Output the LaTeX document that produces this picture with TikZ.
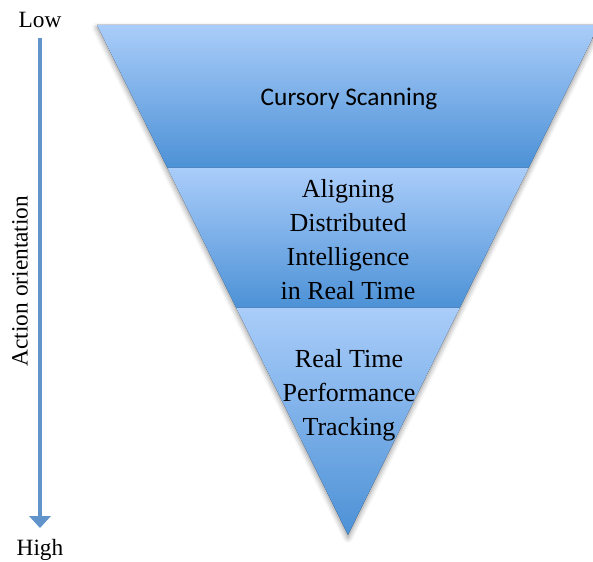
\documentclass[tikz,border=0pt]{standalone}
\usepackage{fontspec}
\setmainfont{Liberation Serif}
\newfontfamily\calibri{Carlito}
\usetikzlibrary{arrows.meta, shadows.blur}

\definecolor{bandlight}{RGB}{170,205,250}
\definecolor{banddark}{RGB}{76,145,214}
\definecolor{arrowblue}{RGB}{98,148,204}

\tikzset{
  band/.style={top color=bandlight, bottom color=banddark},
  tiertext/.style={align=center, font=\fontsize{19.5}{25.5}\selectfont},
  axistext/.style={font=\fontsize{17.5}{20}\selectfont},
  axisarrow/.style={arrowblue, line width=3pt,
    -{Triangle[width=16pt, length=9pt]}},
}

\begin{document}
\begin{tikzpicture}[x=0.75pt, y=0.75pt]
  \useasboundingbox (0,0) rectangle (593,561);
  \clip (0,0) rectangle (593,561);

  % ── Funnel outline with soft shadow ──
  \fill[white, blur shadow={shadow xshift=0pt, shadow yshift=-2pt,
      shadow blur radius=4pt, shadow opacity=45}]
    (97,536) -- (599,536) -- (348,26) -- cycle;

  % ── Three bands, light at the top, darker at the bottom ──
  \fill[band] (97,536) -- (599,536) -- (528.6,393) -- (167.4,393) -- cycle;
  \fill[band] (167.4,393) -- (528.6,393) -- (459.7,253) -- (236.3,253) -- cycle;
  \fill[band] (236.3,253) -- (459.7,253) -- (348,26) -- cycle;

  % ── Band texts ──
  \node[tiertext, font=\calibri\fontsize{19}{23}\selectfont] (scan) at (349,462)
    {Cursory Scanning};
  \node[tiertext] (align) at (348,321)
    {Aligning\\Distributed\\Intelligence\\in Real Time};
  \node[tiertext] (track) at (349,166)
    {Real Time\\Performance\\Tracking};

  % ── Action axis ──
  \node[axistext] (low) at (40,541) {Low};
  \node[axistext] (high) at (40,11) {High};
  \node[axistext, rotate=90] (action) at (20,280) {Action orientation};
  \draw[axisarrow, shorten <=4pt, shorten >=5pt] (low) -- (high);
\end{tikzpicture}
\end{document}
